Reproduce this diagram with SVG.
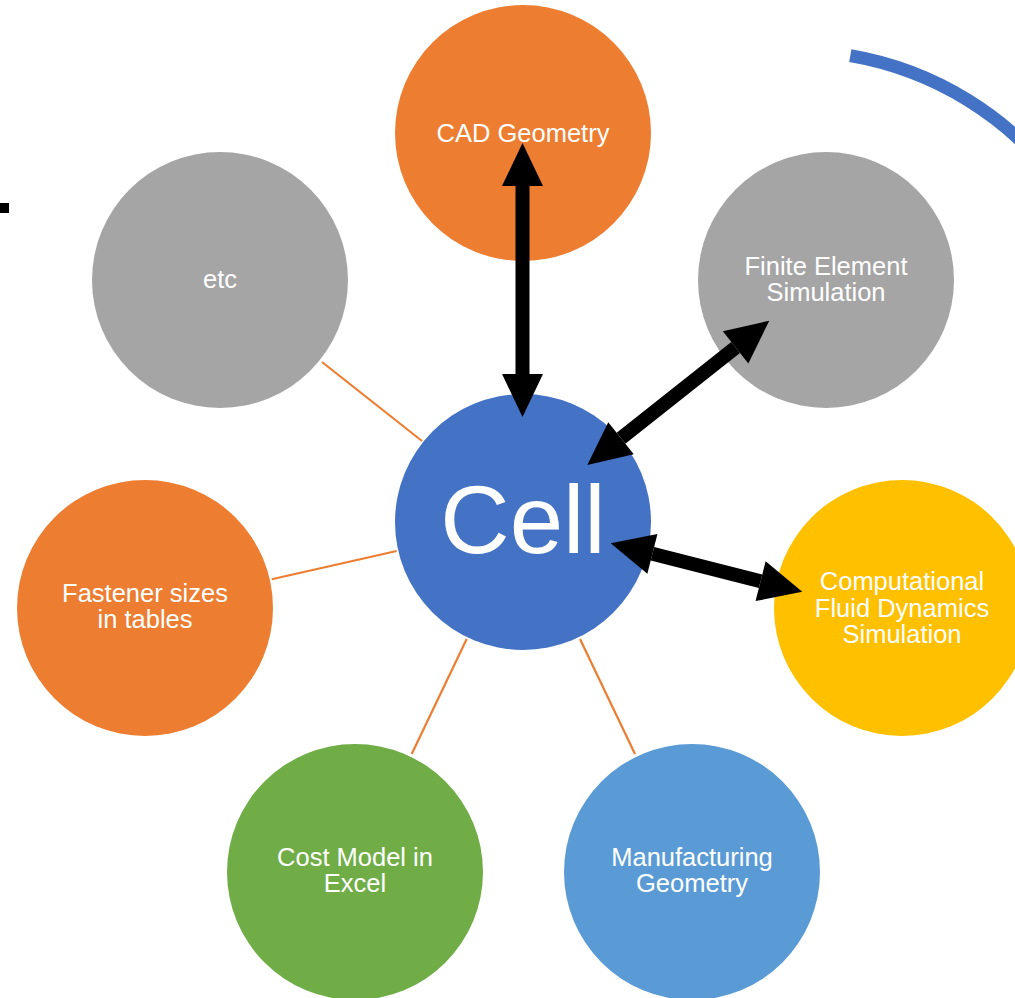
<svg xmlns="http://www.w3.org/2000/svg" width="1015" height="998" viewBox="0 0 1015 998">
  <style>
    .lbl { font-family: "Liberation Sans", Arial, sans-serif; font-size: 25.5px; fill: #FFFFFF; text-anchor: middle; }
    .big { font-family: "Liberation Sans", Arial, sans-serif; font-size: 96px; fill: #FFFFFF; text-anchor: middle; }
    .thin { stroke: #ED7D31; stroke-width: 2.2; fill: none; }
    .arrow { stroke: #000000; stroke-width: 14; fill: none; marker-start: url(#head); marker-end: url(#head); }
  </style>
  <defs>
    <marker id="head" markerUnits="userSpaceOnUse" markerWidth="43" markerHeight="41" viewBox="0 -20.5 43 41" refX="0" refY="0" orient="auto-start-reverse" overflow="visible">
      <path d="M0,-20.5 L43,0 L0,20.5 Z" fill="#000000"/>
    </marker>
  </defs>
  <rect width="1015" height="998" fill="#FFFFFF"/>
  <rect x="0" y="203" width="9" height="10" fill="#000000"/>
  <path d="M850.3,55.7 A330,330 0 0 1 1060,185" stroke="#4472C4" stroke-width="13" fill="none"/>

  <g id="node-cad">
    <circle cx="523" cy="133" r="128" fill="#ED7D31"/>
    <text class="lbl" x="523" y="142">CAD Geometry</text>
  </g>
  <g id="node-etc">
    <circle cx="220" cy="280" r="128" fill="#A5A5A5"/>
    <text class="lbl" x="220" y="288">etc</text>
  </g>
  <g id="node-fea">
    <circle cx="826" cy="280" r="128" fill="#A5A5A5"/>
    <text class="lbl" x="826" y="275">Finite Element</text>
    <text class="lbl" x="826" y="301">Simulation</text>
  </g>
  <g id="node-cell">
    <circle cx="523" cy="522" r="128" fill="#4472C4"/>
    <text class="big" x="523" y="553">Cell</text>
  </g>
  <g id="node-cfd">
    <circle cx="902" cy="608" r="128" fill="#FFC000"/>
    <text class="lbl" x="902" y="590">Computational</text>
    <text class="lbl" x="902" y="616.5">Fluid Dynamics</text>
    <text class="lbl" x="902" y="643">Simulation</text>
  </g>
  <g id="node-fastener">
    <circle cx="145" cy="608" r="128" fill="#ED7D31"/>
    <text class="lbl" x="145" y="602">Fastener sizes</text>
    <text class="lbl" x="145" y="628">in tables</text>
  </g>
  <g id="node-cost">
    <circle cx="355" cy="872" r="128" fill="#70AD47"/>
    <text class="lbl" x="355" y="866">Cost Model in</text>
    <text class="lbl" x="355" y="892">Excel</text>
  </g>
  <g id="node-mfg">
    <circle cx="692" cy="872" r="128" fill="#5B9BD5"/>
    <text class="lbl" x="692" y="866">Manufacturing</text>
    <text class="lbl" x="692" y="892">Geometry</text>
  </g>

  <g id="connectors">
    <line class="thin" x1="322" y1="362" x2="422" y2="441"/>
    <line class="thin" x1="271.7" y1="579.3" x2="396.7" y2="551"/>
    <line class="thin" x1="466.7" y1="639" x2="411.7" y2="754"/>
    <line class="thin" x1="580" y1="639" x2="635" y2="754"/>
    <line class="arrow" x1="522.5" y1="186" x2="522.5" y2="374"/>
    <line class="arrow" x1="621" y1="438.3" x2="735.6" y2="347.4"/>
    <line class="arrow" x1="652.4" y1="553.8" x2="760.6" y2="581.2"/>
  </g>
</svg>
